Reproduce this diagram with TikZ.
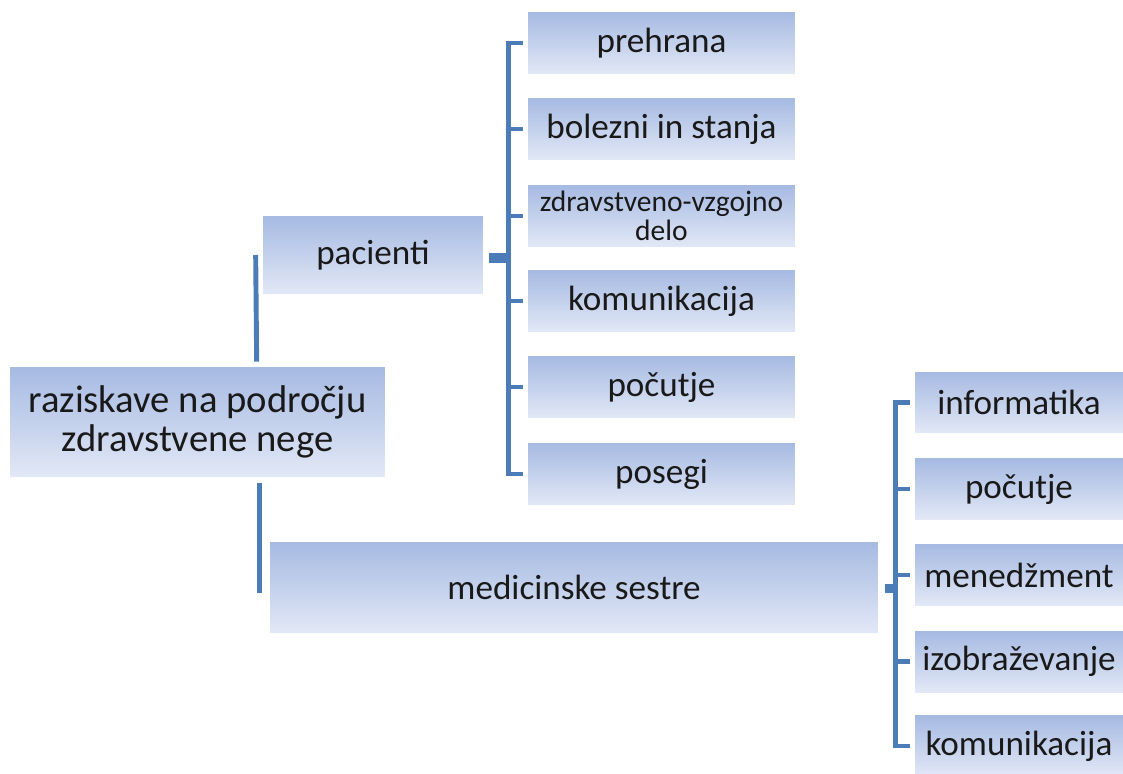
\documentclass[tikz,border=0pt]{standalone}
\usepackage{fontspec}
\setmainfont{Carlito}
\usepackage{tikz}
\usetikzlibrary{calc}
\definecolor{boxtop}{RGB}{166,186,226}
\definecolor{boxbot}{RGB}{226,232,246}
\definecolor{brkblue}{RGB}{76,124,184}

\begin{document}
\begin{tikzpicture}[x=0.02cm, y=-0.02cm,
      box/.style={top color=boxtop, bottom color=boxbot, draw=none, inner sep=0pt, align=center, text=black!90, font=\fontsize{20}{22}\selectfont},
      leaf/.style={box, minimum width=5.34cm, minimum height=1.24cm},
      leafb/.style={box, minimum width=4.16cm, minimum height=1.22cm},
      brk/.style={draw=brkblue, line width=2.8pt},
      stub/.style={draw=brkblue, line width=5.6pt}]
    \useasboundingbox (0,0) rectangle (1123,774);
    % main boxes
    \node[box, minimum width=7.5cm, minimum height=2.2cm, font=\fontsize{22}{21.8}\selectfont] (root) at (197.5,422) {raziskave na področju\\zdravstvene nege};
    \node[box, minimum width=4.4cm, minimum height=1.56cm] (pacienti) at (373,255) {pacienti};
    \node[box, minimum width=12.16cm, minimum height=1.82cm] (sestre) at (574,587.5) {medicinske sestre};
    % pacienti
    \node[leaf] (prehrana) at (661.5,43)  {prehrana};
    \node[leaf] (bolezni)  at (661.5,129) {bolezni in stanja};
    \node[leaf, font=\fontsize{16.8}{16.6}\selectfont] (zvd) at (661.5,216) {zdravstveno-vzgojno\\delo};
    \node[leaf] (komA)     at (661.5,301) {komunikacija};
    \node[leaf] (pocA)     at (661.5,387) {počutje};
    \node[leaf] (posegi)   at (661.5,474) {posegi};
    % medicinske sestre
    \node[leafb] (info)    at (1019,402.5) {informatika};
    \node[leafb] (pocB)    at (1019,489)   {počutje};
    \node[leafb] (mened)   at (1019,575)   {menedžment};
    \node[leafb] (izobr)   at (1019,661.5) {izobraževanje};
    \node[leafb] (komB)    at (1019,746)   {komunikacija};
    % trunk
    \draw[brk] ($(pacienti.west)+(-7,0)$) -- ($(pacienti.west |- root.north)+(-6,-5)$);
    \draw[brk] ($(sestre.west |- root.south)+(-10,6)$) -- ($(sestre.west)+(-10,5)$);
    % brackets
    \draw[stub] ($(pacienti.east)+(6,3)$) -- ($(prehrana.west |- pacienti.east)+(-19,3)$);
    \draw[brk] ($(prehrana.west)+(-5,0)$) -| ($(posegi.west)+(-19,0)$) -- ($(posegi.west)+(-5,0)$);
    \foreach \n in {bolezni, zvd, komA, pocA}
      \draw[brk] ($(\n.west)+(-19,0)$) -- ($(\n.west)+(-5,0)$);
    \draw[stub] ($(sestre.east)+(7,1)$) -- ($(info.west |- sestre.east)+(-19,1)$);
    \draw[brk] ($(info.west)+(-5,0)$) -| ($(komB.west)+(-19,0)$) -- ($(komB.west)+(-5,0)$);
    \foreach \n in {pocB, mened, izobr}
      \draw[brk] ($(\n.west)+(-19,0)$) -- ($(\n.west)+(-5,0)$);
\end{tikzpicture}
\end{document}
